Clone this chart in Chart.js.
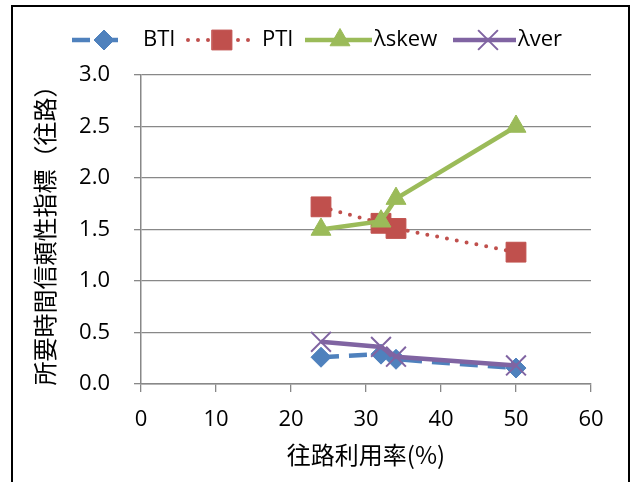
<!DOCTYPE html>
<html>
<head>
<meta charset="utf-8">
<script src="https://cdn.jsdelivr.net/npm/chart.js@4.4.0/dist/chart.umd.min.js"></script>
<style>
  html, body { margin: 0; padding: 0; background: #fff; }
  #wrap { width: 632px; height: 482px; }
</style>
</head>
<body>
<div id="wrap"><canvas id="chartOne" width="632" height="482"></canvas></div>
<script>
// data
const usage = [24, 32, 34, 50];
const bti = [0.26, 0.29, 0.24, 0.155];
const pti = [1.72, 1.56, 1.51, 1.28];
const skew = [1.50, 1.58, 1.80, 2.50];
const ver = [0.41, 0.36, 0.265, 0.18];
const seriesNames = ['BTI', 'PTI', 'λskew', 'λver'];
const yTitle = '所要時間信頼性指標（往路）';
const xTitle = '往路利用率(%)';

const FONT = "'Open Sans', 'Noto Sans', sans-serif";
const CJK = "'Noto Sans CJK JP', sans-serif";

function pts(ys) {
    return usage.map((x, i) => ({ x: x, y: ys[i] }));
}

// legend drawn by hand: line + marker + name, like the office chart
const legendSpots = [
    { x0: 72, x1: 122, mark: 104, text: 143 },
    { x0: 188, x1: 250, mark: 222, text: 262 },
    { x0: 305, x1: 372, mark: 340, text: 374 },
    { x0: 453, x1: 516, mark: 488, text: 518 }
];

const frameAndLegend = {
    id: 'frameAndLegend',
    beforeDraw(chart) {
        const c = chart.ctx;
        c.save();
        c.fillStyle = '#fff';
        c.fillRect(0, 0, chart.width, chart.height);
        c.strokeStyle = '#000';
        c.lineWidth = 2;
        c.strokeRect(12, 6, 617, 490);
        c.restore();
    },
    afterDraw(chart) {
        const c = chart.ctx;
        const y = 40;
        chart.data.datasets.forEach((ds, i) => {
            const s = legendSpots[i];
            c.save();
            c.strokeStyle = ds.borderColor;
            c.lineWidth = ds.borderWidth;
            c.lineCap = ds.borderCapStyle || 'butt';
            c.setLineDash(ds.borderDash || []);
            c.beginPath();
            c.moveTo(s.x0, y);
            c.lineTo(s.x1, y);
            c.stroke();
            c.setLineDash([]);
            c.fillStyle = ds.pointBackgroundColor;
            c.strokeStyle = ds.pointBorderColor;
            c.lineWidth = ds.pointBorderWidth;
            Chart.helpers.drawPoint(c, {
                pointStyle: ds.pointStyle,
                radius: ds.pointRadius,
                rotation: 0,
                borderWidth: ds.pointBorderWidth
            }, s.mark, y);
            c.fillStyle = '#000';
            c.font = '22px ' + FONT;
            c.textBaseline = 'middle';
            c.textAlign = 'left';
            c.fillText(ds.label, s.text, y);
            c.restore();
        });
    }
};

const ctx = document.getElementById('chartOne').getContext('2d');
const chartOne = new Chart(ctx, {
    type: 'line',
    data: {
        datasets: [{
            label: seriesNames[0],
            data: pts(bti),
            borderColor: '#4F81BD',
            borderWidth: 4.5,
            borderDash: [18, 10],
            pointStyle: 'rectRot',
            pointRadius: 10,
            pointBackgroundColor: '#4F81BD',
            pointBorderColor: '#4F81BD',
            pointBorderWidth: 1,
            order: 3
        }, {
            label: seriesNames[1],
            data: pts(pti),
            borderColor: '#C0504D',
            borderWidth: 4,
            borderDash: [0, 10],
            borderCapStyle: 'round',
            pointStyle: 'rect',
            pointRadius: 14,
            pointBackgroundColor: '#C0504D',
            pointBorderColor: '#C0504D',
            pointBorderWidth: 1,
            order: 2
        }, {
            label: seriesNames[2],
            data: pts(skew),
            borderColor: '#9BBB59',
            borderWidth: 4.5,
            pointStyle: 'triangle',
            pointRadius: 11.5,
            pointBackgroundColor: '#9BBB59',
            pointBorderColor: '#9BBB59',
            pointBorderWidth: 1,
            order: 1
        }, {
            label: seriesNames[3],
            data: pts(ver),
            borderColor: '#8064A2',
            borderWidth: 4.5,
            pointStyle: 'crossRot',
            pointRadius: 14,
            pointBackgroundColor: '#8064A2',
            pointBorderColor: '#8064A2',
            pointBorderWidth: 2,
            order: 0
        }]
    },
    options: {
        responsive: false,
        animation: false,
        devicePixelRatio: 1,
        layout: { padding: { left: 0, top: 75, right: 41, bottom: 0 } },
        plugins: {
            legend: { display: false },
            tooltip: { enabled: false }
        },
        scales: {
            x: {
                type: 'linear',
                min: 0,
                max: 60,
                ticks: { stepSize: 10, color: '#000', padding: 15, font: { size: 22, family: FONT } },
                grid: { drawOnChartArea: false, drawTicks: true, tickLength: 8, color: '#888', lineWidth: 1.3 },
                border: { color: '#888', width: 1.5 },
                title: { display: true, text: xTitle, color: '#000', font: { size: 24, family: CJK }, padding: { top: 0, bottom: 13 } },
                afterFit: s => { s.height = 98; }
            },
            y: {
                min: 0,
                max: 3,
                ticks: {
                    stepSize: 0.5, color: '#000', padding: 24,
                    font: { size: 22, family: FONT },
                    callback: v => v.toFixed(1)
                },
                grid: { color: '#888', lineWidth: 1.3, tickLength: 7 },
                border: { color: '#888', width: 1.5 },
                title: { display: true, text: yTitle, color: '#000', font: { size: 24, family: CJK }, padding: { top: 30, bottom: 0 } },
                afterFit: s => { s.width = 141; }
            }
        }
    },
    plugins: [frameAndLegend]
});
</script>
</body>
</html>
